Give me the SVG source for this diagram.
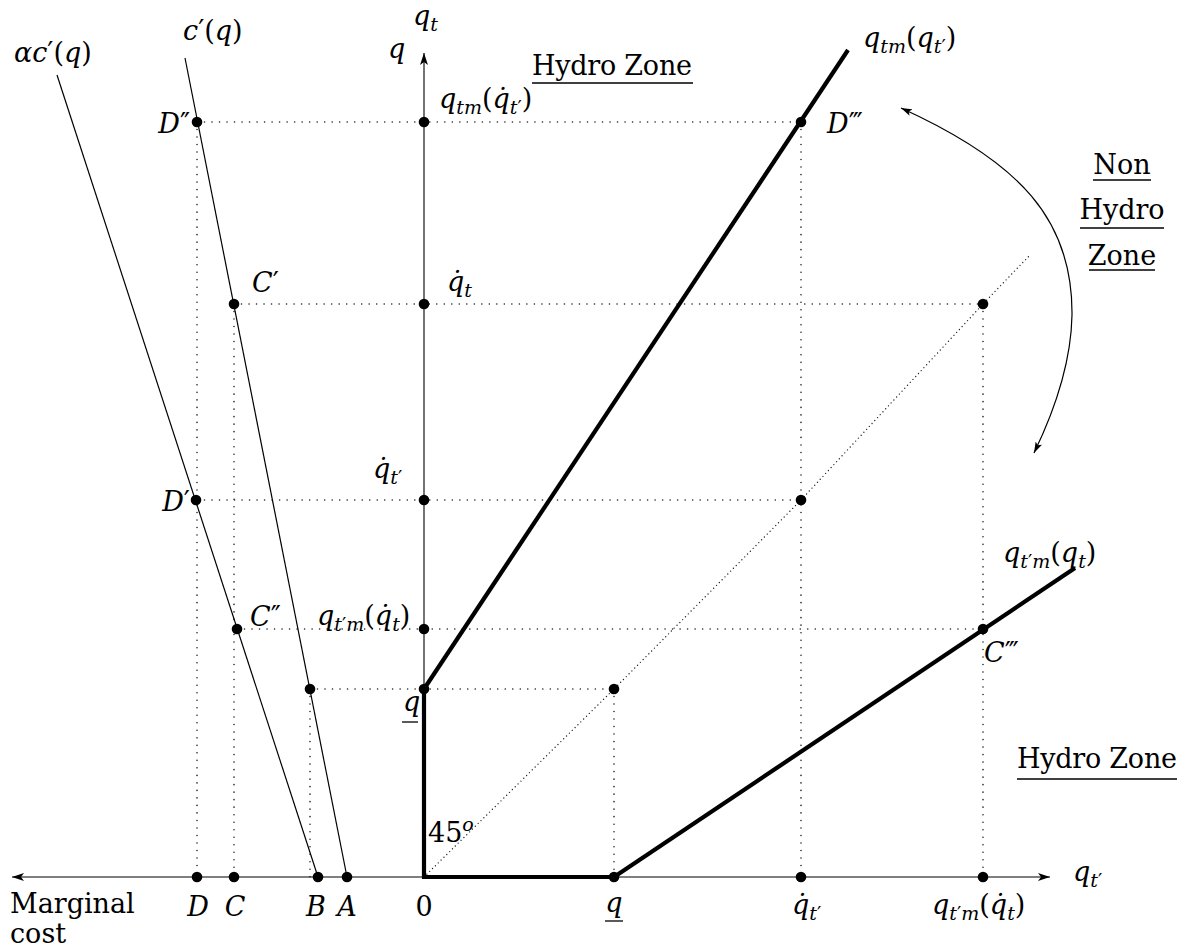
<svg xmlns="http://www.w3.org/2000/svg" width="1199" height="949" viewBox="0 0 1199 949">
<style>
text{font-family:"DejaVu Serif","Liberation Serif",serif}
.m{font-style:italic;font-size:27px;fill:#000}
.r{font-style:normal;font-size:27px;fill:#000}
.n{font-style:normal}
.s{font-size:19px}
.dot{stroke:#222;stroke-width:1.6;stroke-linecap:round;stroke-dasharray:0.01 7.5;fill:none}
.diag{stroke:#222;stroke-width:1.3;stroke-linecap:round;stroke-dasharray:0.01 4;fill:none}
.thin{stroke:#000;stroke-width:1.2;fill:none}
.thick{stroke:#000;stroke-width:4.2;fill:none;stroke-linejoin:miter}
.ax{stroke:#000;stroke-width:1.1;fill:none}
.ul{stroke:#000;stroke-width:1.3}
.pt{fill:#000}
</style>
<defs>
<marker id="arr" viewBox="0 0 12 8" refX="12" refY="4" markerWidth="12" markerHeight="8" markerUnits="userSpaceOnUse" orient="auto-start-reverse"><path d="M0,0 L12,4 L0,8 L3,4 Z" fill="#000"/></marker>
<marker id="arr2" viewBox="0 0 11 7" refX="11" refY="3.5" markerWidth="11" markerHeight="7" markerUnits="userSpaceOnUse" orient="auto-start-reverse"><path d="M0,0 L11,3.5 L0,7 L2.5,3.5 Z" fill="#000"/></marker>
</defs>

<g id="guides">
<line class="dot" x1="197" y1="122" x2="801" y2="122"/>
<line class="dot" x1="234" y1="304" x2="983" y2="304"/>
<line class="dot" x1="197" y1="500" x2="801" y2="500"/>
<line class="dot" x1="237" y1="629" x2="983" y2="629"/>
<line class="dot" x1="310" y1="689" x2="614" y2="689"/>
<line class="dot" x1="197" y1="122" x2="197" y2="877"/>
<line class="dot" x1="234" y1="304" x2="234" y2="877"/>
<line class="dot" x1="310" y1="689" x2="310" y2="877"/>
<line class="dot" x1="614" y1="689" x2="614" y2="877"/>
<line class="dot" x1="801" y1="122" x2="801" y2="877"/>
<line class="dot" x1="983" y1="304" x2="983" y2="877"/>
<path class="diag" d="M424,877 L614,689 L801,500 L983,304 L1029,256"/>
</g>

<g id="connectors">
<line class="ax" x1="1050" y1="877" x2="12" y2="877" marker-end="url(#arr)" marker-start="url(#arr)"/>
<line class="ax" x1="424" y1="877" x2="424" y2="53" marker-end="url(#arr)"/>
<line class="thin" x1="57" y1="75" x2="318" y2="877"/>
<line class="thin" x1="185" y1="58" x2="347" y2="877"/>
<path class="thick" d="M424,689 L424,877 L614,877"/>
<line class="thick" x1="424" y1="689" x2="848" y2="50"/>
<line class="thick" x1="614" y1="877" x2="1075" y2="568"/>
<path class="thin" stroke-width="1" d="M901,108 C1020,162 1073,220 1072,315 C1071,370 1050,420 1034,453" marker-start="url(#arr2)" marker-end="url(#arr2)"/>
</g>

<g id="points">
<circle class="pt" cx="197" cy="877" r="5.3"/>
<circle class="pt" cx="234" cy="877" r="5.3"/>
<circle class="pt" cx="318" cy="877" r="5.3"/>
<circle class="pt" cx="347" cy="877" r="5.3"/>
<circle class="pt" cx="614" cy="877" r="5.3"/>
<circle class="pt" cx="801" cy="877" r="5.3"/>
<circle class="pt" cx="983" cy="877" r="5.3"/>
<circle class="pt" cx="424" cy="122" r="5.3"/>
<circle class="pt" cx="424" cy="304" r="5.3"/>
<circle class="pt" cx="424" cy="500" r="5.3"/>
<circle class="pt" cx="424" cy="629" r="5.3"/>
<circle class="pt" cx="424" cy="689" r="5.3"/>
<circle class="pt" cx="197" cy="122" r="5.3"/>
<circle class="pt" cx="234" cy="304" r="5.3"/>
<circle class="pt" cx="196" cy="500" r="5.3"/>
<circle class="pt" cx="237" cy="629" r="5.3"/>
<circle class="pt" cx="310" cy="689" r="5.3"/>
<circle class="pt" cx="801" cy="122" r="5.3"/>
<circle class="pt" cx="983" cy="304" r="5.3"/>
<circle class="pt" cx="801" cy="500" r="5.3"/>
<circle class="pt" cx="983" cy="629" r="5.3"/>
<circle class="pt" cx="614" cy="689" r="5.3"/>
</g>

<g id="curve-labels">
<text class="m" x="14" y="62">αc<tspan class="n">′(</tspan>q<tspan class="n">)</tspan></text>
<text class="m" x="183" y="40">c<tspan class="n">′(</tspan>q<tspan class="n">)</tspan></text>
<text class="m" x="863" y="47">q<tspan class="s" dy="6">t</tspan><tspan class="s">m</tspan><tspan class="n" dy="-6">(</tspan>q<tspan class="s" dy="6">t</tspan><tspan class="s n">′</tspan><tspan class="n" dy="-6">)</tspan></text>
<text class="m" x="1003" y="562">q<tspan class="s" dy="6">t</tspan><tspan class="s n">′</tspan><tspan class="s">m</tspan><tspan class="n" dy="-6">(</tspan>q<tspan class="s" dy="6">t</tspan><tspan class="n" dy="-6">)</tspan></text>
</g>

<g id="axis-labels">
<text class="m" x="413" y="25">q<tspan class="s" dy="6">t</tspan></text>
<text class="m" x="388" y="58">q</text>
<text class="m" x="1073" y="881">q<tspan class="s" dy="6">t</tspan><tspan class="s n">′</tspan></text>
<text class="r" x="10" y="913">Marginal</text>
<text class="r" x="10" y="943">cost</text>
</g>

<g id="vertical-axis-labels">
<text class="m" x="439" y="108">q<tspan class="s" dy="6">tm</tspan><tspan class="n" dy="-6">(</tspan>q̇<tspan class="s" dy="6">t</tspan><tspan class="s n">′</tspan><tspan class="n" dy="-6">)</tspan></text>
<text class="m" x="447" y="291">q̇<tspan class="s" dy="6">t</tspan></text>
<text class="m" x="373" y="478">q̇<tspan class="s" dy="6">t</tspan><tspan class="s n">′</tspan></text>
<text class="m" x="317" y="625">q<tspan class="s" dy="6">t</tspan><tspan class="s n">′</tspan><tspan class="s">m</tspan><tspan class="n" dy="-6">(</tspan>q̇<tspan class="s" dy="6">t</tspan><tspan class="n" dy="-6">)</tspan></text>
<text class="m" x="403" y="711">q</text>
<line class="ul" x1="402" y1="722" x2="418" y2="722"/>
<text class="r" x="428" y="842">45<tspan class="m s" dy="-11">o</tspan></text>
</g>

<g id="point-labels">
<text class="m" x="190" y="133" text-anchor="end">D<tspan class="n">″</tspan></text>
<text class="m" x="827" y="133">D<tspan class="n">‴</tspan></text>
<text class="m" x="252" y="292">C<tspan class="n">′</tspan></text>
<text class="m" x="190" y="511" text-anchor="end">D<tspan class="n">′</tspan></text>
<text class="m" x="250" y="626">C<tspan class="n">″</tspan></text>
<text class="m" x="984" y="662">C<tspan class="n">‴</tspan></text>
</g>

<g id="h-axis-labels">
<text class="m" x="198" y="916" text-anchor="middle">D</text>
<text class="m" x="235" y="916" text-anchor="middle">C</text>
<text class="m" x="316" y="916" text-anchor="middle">B</text>
<text class="m" x="347" y="916" text-anchor="middle">A</text>
<text class="r" x="424" y="916" text-anchor="middle">0</text>
<text class="m" x="614" y="912" text-anchor="middle">q</text>
<line class="ul" x1="605" y1="921" x2="623" y2="921"/>
<text class="m" x="792" y="914">q̇<tspan class="s" dy="6">t</tspan><tspan class="s n">′</tspan></text>
<text class="m" x="932" y="914">q<tspan class="s" dy="6">t</tspan><tspan class="s n">′</tspan><tspan class="s">m</tspan><tspan class="n" dy="-6">(</tspan>q̇<tspan class="s" dy="6">t</tspan><tspan class="n" dy="-6">)</tspan></text>
</g>

<g id="zone-labels">
<text class="r" x="532" y="75" textLength="160">Hydro Zone</text>
<line class="ul" x1="532" y1="83" x2="693" y2="83"/>
<text class="r" x="1122" y="174" text-anchor="middle">Non</text>
<line class="ul" x1="1093" y1="180" x2="1151" y2="180"/>
<text class="r" x="1122" y="219" text-anchor="middle">Hydro</text>
<line class="ul" x1="1080" y1="228" x2="1164" y2="228"/>
<text class="r" x="1122" y="265" text-anchor="middle">Zone</text>
<line class="ul" x1="1089" y1="270" x2="1155" y2="270"/>
<text class="r" x="1017" y="768" textLength="160">Hydro Zone</text>
<line class="ul" x1="1017" y1="779" x2="1177" y2="779"/>
</g>
</svg>
